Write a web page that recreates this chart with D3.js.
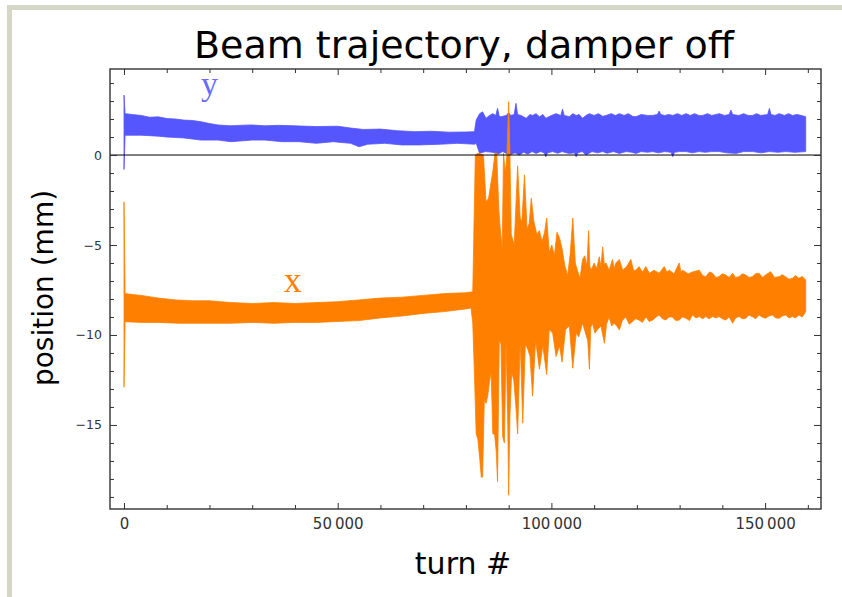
<!DOCTYPE html>
<html>
<head>
<meta charset="utf-8">
<script src="https://cdn.jsdelivr.net/npm/d3@7"></script>
<style>
body { margin: 0; background: #fff; }
svg text { font-family: "DejaVu Sans", Verdana, sans-serif; }
</style>
</head>
<body>
<script>
// envelope of the noisy traces: [turn, position in mm]
// vertical plane (blue)
var yUpper = [
    [0, 3.33], [250, 2.3], [2000, 2.25], [4000, 2.2], [6000, 2.1], [8000, 2.12], [10000, 2.03], [12000, 2.0], [14000, 1.94], [16000, 1.92],
    [18000, 1.85], [20000, 1.75], [22000, 1.67], [25000, 1.62], [28000, 1.66], [30000, 1.67], [33000, 1.62], [36000, 1.65], [40000, 1.62], [45000, 1.58],
    [50000, 1.6], [53000, 1.5], [56000, 1.42], [60000, 1.44], [64000, 1.35], [68000, 1.3], [72000, 1.32], [76000, 1.27], [80000, 1.28], [82000, 1.3],
    [82400, 1.94], [83200, 2.3], [83900, 2.4], [84700, 2.04], [85500, 2.2], [86300, 2.3], [87000, 2.2], [87400, 2.6], [87800, 2.15], [88200, 2.13],
    [89400, 2.2], [90000, 2.35], [90500, 2.2], [91300, 2.25], [91700, 2.87], [92100, 2.25], [92900, 2.2], [94100, 2.04], [95000, 2.25], [95600, 2.2],
    [96400, 2.3], [97200, 2.13], [98000, 2.25], [98700, 2.04], [100000, 2.2], [101100, 2.3], [102200, 2.2], [102600, 2.55], [103000, 2.2], [104200, 2.13],
    [105000, 2.3], [105800, 2.2], [106500, 2.25], [107300, 2.04], [108100, 2.2], [108900, 2.3], [110000, 2.2], [111000, 2.3], [112000, 2.15], [112800, 2.2],
    [114000, 2.3], [115000, 2.2], [115900, 2.3], [117000, 2.2], [118000, 2.3], [119000, 2.15], [119800, 2.13], [121000, 2.25], [122500, 2.2], [123700, 2.2],
    [124800, 2.25], [125200, 2.44], [125600, 2.25], [126500, 2.2], [127500, 2.25], [128400, 2.2], [129500, 2.3], [130500, 2.2], [131500, 2.3], [132500, 2.2],
    [133500, 2.3], [134500, 2.2], [135400, 2.2], [136500, 2.3], [137500, 2.2], [138500, 2.25], [139300, 2.3], [140500, 2.2], [141600, 2.25], [142000, 2.5],
    [142400, 2.25], [143900, 2.2], [145000, 2.3], [146000, 2.2], [147100, 2.2], [148000, 2.3], [149000, 2.2], [150600, 2.25], [151000, 2.59], [151400, 2.25],
    [152300, 2.2], [153300, 2.3], [154500, 2.2], [155500, 2.3], [156400, 2.2], [157500, 2.25], [158500, 2.2], [159500, 2.13]
];
var yLower = [
    [0, -0.8], [250, 1.1], [4000, 1.1], [8000, 1.05], [10000, 1.0], [14000, 0.95], [18000, 0.83], [22000, 0.83], [25000, 0.74], [30000, 0.83],
    [33000, 0.83], [37000, 0.74], [41000, 0.74], [45000, 0.65], [49000, 0.74], [53000, 0.65], [55000, 0.46], [57000, 0.6], [61000, 0.65], [65000, 0.56],
    [69000, 0.56], [74000, 0.6], [78000, 0.65], [82000, 0.6], [82400, 0.65], [83200, 0.1], [84500, 0.19], [86300, 0.15], [87500, 0.05], [88600, 0.19],
    [90200, 0.0], [91500, 0.12], [92500, 0.0], [93500, 0.15], [94500, 0.05], [95500, 0.19], [96400, 0.09], [97500, 0.19], [98300, 0.12], [98700, -0.1],
    [99100, 0.12], [100300, 0.19], [101500, 0.1], [102500, 0.19], [103500, 0.12], [104200, 0.09], [105400, 0.12], [105800, -0.1], [106200, 0.12], [107200, 0.19],
    [108100, 0.0], [109500, 0.19], [110800, 0.12], [112000, 0.19], [113000, 0.1], [114500, 0.19], [115900, 0.09], [117500, 0.19], [118800, 0.15], [119800, 0.09],
    [121000, 0.19], [122500, 0.15], [123700, 0.19], [125000, 0.12], [126500, 0.19], [128000, 0.15], [128400, -0.09], [128800, 0.15], [130000, 0.19], [131500, 0.19],
    [133000, 0.12], [134500, 0.19], [136000, 0.15], [137500, 0.19], [139300, 0.19], [141000, 0.12], [143200, 0.09], [145000, 0.19], [147100, 0.19], [149000, 0.12],
    [151000, 0.19], [153000, 0.15], [154800, 0.19], [157000, 0.15], [159500, 0.19]
];

// horizontal plane (orange)
var xUpper = [
    [0, -2.6], [250, -7.7], [2000, -7.75], [4000, -7.8], [8000, -7.95], [12000, -8.05], [16000, -8.1], [20000, -8.1], [25000, -8.2], [30000, -8.25],
    [35000, -8.2], [40000, -8.25], [45000, -8.2], [50000, -8.15], [55000, -8.05], [60000, -7.95], [65000, -7.9], [70000, -7.8], [75000, -7.7], [80000, -7.65],
    [81600, -7.6], [82200, 0.0], [82800, 0.1], [83600, 0.05], [84100, 0.0], [84700, -2.6], [85300, -2.4], [85900, -1.5], [86300, -0.9], [86800, 0.1],
    [87200, 0.1], [87700, -3.0], [88000, -4.0], [88500, -5.2], [88800, 0.1], [89200, -1.0], [89600, 0.0], [90000, 2.96], [90300, 0.0], [90600, -4.4],
    [91300, -5.0], [92100, -0.6], [92700, -3.5], [93100, -3.7], [93700, -1.1], [94300, -4.1], [94800, -3.8], [95300, -2.4], [95900, -3.7], [96600, -4.4],
    [97200, -4.2], [97800, -4.8], [98400, -4.3], [98900, -3.5], [99500, -5.4], [100100, -5.0], [100700, -5.6], [101300, -4.3], [101900, -4.6], [102500, -5.2],
    [103100, -6.1], [103800, -6.7], [104400, -5.5], [105000, -3.5], [105600, -6.0], [106200, -6.5], [106700, -6.85], [107300, -5.8], [107800, -5.6], [108300, -6.2],
    [108700, -4.2], [109000, -6.2], [109300, -6.4], [110000, -6.0], [110600, -6.3], [111200, -5.65], [111600, -6.2], [112000, -5.1], [112400, -6.1], [112800, -6.0],
    [113500, -6.4], [114300, -5.8], [114700, -6.3], [115100, -6.0], [115900, -5.8], [116700, -6.4], [117600, -6.2], [118600, -5.8], [119200, -6.4], [119800, -6.4],
    [120500, -6.2], [121300, -6.5], [122100, -6.2], [122900, -6.57], [124000, -6.4], [125200, -6.57], [126400, -6.2], [127000, -6.5], [127600, -6.4], [128700, -6.6],
    [129900, -6.0], [130300, -6.5], [130700, -6.4], [132000, -6.6], [133000, -6.5], [134600, -6.4], [135400, -6.7], [136100, -6.76], [137000, -6.5], [137700, -6.57],
    [138500, -6.8], [139200, -6.76], [140000, -6.6], [140800, -6.67], [141600, -6.8], [142400, -6.57], [143100, -6.8], [143900, -6.76], [144700, -6.6], [145500, -6.67],
    [146200, -6.8], [147000, -6.76], [147800, -6.6], [148600, -6.57], [149400, -6.8], [150100, -6.67], [151300, -6.48], [152200, -6.8], [153300, -6.76], [154000, -6.65],
    [154800, -6.76], [155600, -6.9], [156400, -6.85], [157100, -6.7], [157900, -6.85], [158700, -6.75], [159500, -6.94]
];
var xLower = [
    [0, -12.9], [250, -9.26], [4000, -9.3], [8000, -9.3], [13000, -9.35], [18000, -9.35], [25000, -9.35], [30000, -9.3], [35000, -9.35], [40000, -9.3],
    [45000, -9.3], [50000, -9.25], [55000, -9.2], [60000, -9.05], [65000, -8.95], [70000, -8.8], [75000, -8.7], [80000, -8.55], [81200, -8.5], [81600, -9.35],
    [82000, -12.2], [82400, -15.5], [82800, -15.8], [83200, -16.8], [83600, -17.9], [83900, -17.9], [84300, -13.6], [84700, -13.8], [85100, -13.4], [85500, -12.6],
    [85900, -12.1], [86300, -15.5], [86700, -15.5], [87100, -16.5], [87400, -18.15], [87800, -10.3], [88200, -10.5], [88600, -15.65], [89000, -16.0], [89400, -10.3],
    [89800, -15.0], [90000, -18.9], [90300, -14.5], [90700, -12.1], [91200, -12.5], [91700, -14.0], [92100, -15.5], [92700, -10.3], [93300, -14.9], [93900, -10.5],
    [94500, -10.8], [95000, -11.2], [95600, -13.4], [96300, -10.3], [96800, -11.2], [97200, -11.9], [98000, -10.6], [98900, -12.2], [99500, -9.7], [100300, -9.9],
    [101100, -11.2], [101900, -10.6], [102500, -11.5], [103300, -9.7], [104200, -9.5], [105000, -11.85], [105800, -9.9], [106400, -10.1], [107300, -9.35], [108500, -10.3],
    [108900, -11.9], [109200, -9.6], [109600, -9.35], [110200, -9.9], [110800, -9.7], [111600, -9.5], [112400, -10.46], [112900, -9.4], [113500, -9.0], [114100, -9.5],
    [114700, -9.35], [115300, -9.5], [115900, -9.72], [116600, -9.2], [117400, -9.0], [118200, -9.4], [119000, -9.25], [119700, -9.1], [120500, -9.17], [121300, -9.3],
    [122100, -9.0], [122900, -9.25], [123700, -9.17], [124500, -9.0], [125200, -8.89], [126000, -9.1], [126800, -9.17], [127500, -9.0], [128300, -9.0], [129100, -9.2],
    [129900, -9.17], [130700, -9.0], [131500, -9.07], [132300, -9.2], [133000, -8.89], [133800, -9.05], [134600, -8.98], [135400, -9.1], [136100, -8.98], [136900, -9.1],
    [137700, -8.98], [138500, -9.05], [139200, -8.98], [140000, -9.1], [140800, -9.17], [141600, -9.0], [142400, -9.35], [143100, -9.05], [143900, -8.98], [144700, -9.1],
    [145500, -9.07], [146200, -8.9], [147000, -8.98], [147800, -9.1], [148600, -8.89], [149300, -9.0], [150100, -9.07], [150900, -8.95], [151700, -8.89], [152500, -9.05],
    [153300, -9.07], [154000, -8.95], [154800, -8.89], [155600, -9.05], [156400, -8.98], [157100, -9.05], [157900, -8.89], [158700, -9.0], [159500, -8.7]
];

var xTicks = [0, 50000, 100000, 150000];
var xTickLabels = ["0", "50\u2009000", "100\u2009000", "150\u2009000"];
var yTicks = [0, -5, -10, -15];
var yTickLabels = ["0", "\u22125", "\u221210", "\u221215"];

var blue = "#5656ff", orange = "#ff8000";

var svg = d3.select("body").append("svg")
    .attr("width", 842)
    .attr("height", 597);

// slide border (top and left strips)
svg.append("rect").attr("x", 7).attr("y", 5).attr("width", 835).attr("height", 5).attr("fill", "#d6d6c6");
svg.append("rect").attr("x", 7).attr("y", 5).attr("width", 5).attr("height", 592).attr("fill", "#d6d6c6");

// plot frame in pixels
var frame = {left: 110, right: 821, top: 69, bottom: 509};

var x = d3.scaleLinear().domain([-3276, 163080]).range([frame.left, frame.right]);
var y = d3.scaleLinear().domain([4.78, -19.67]).range([frame.top, frame.bottom]);

svg.append("clipPath").attr("id", "clip")
    .append("rect").attr("x", frame.left).attr("y", frame.top)
    .attr("width", frame.right - frame.left).attr("height", frame.bottom - frame.top);

// closed outline: upper edge left to right, then lower edge back
var line = d3.line()
    .x(function(d) { return x(d[0]); })
    .y(function(d) { return y(d[1]); });

function band(upper, lower, color) {
    var pts = upper.concat(lower.slice().reverse());
    g.append("path")
        .attr("d", line(pts) + "Z")
        .attr("fill", color)
        .attr("stroke", color)
        .attr("stroke-width", 0.8)
        .attr("stroke-linejoin", "round");
}

var g = svg.append("g").attr("clip-path", "url(#clip)");
band(yUpper, yLower, blue);
band(xUpper, xLower, orange);

// zero line
svg.append("line")
    .attr("x1", frame.left).attr("x2", frame.right)
    .attr("y1", y(0)).attr("y2", y(0))
    .attr("stroke", "#000")
    .attr("stroke-width", 1);

// frame ticks
var xMinor = d3.range(10000, 170000, 10000).filter(function(d) { return d % 50000 != 0; });
var yMinor = d3.range(-19, 5, 1).filter(function(d) { return d % 5 != 0; });

function frameAxis(axis, tr) {
    var a = svg.append("g").attr("transform", tr).call(axis);
    a.select(".domain").remove();
    a.selectAll("line").attr("stroke", "#333").attr("stroke-width", 1);
    return a;
}

var bx = frameAxis(d3.axisBottom(x).tickValues(xTicks).tickSize(-6).tickPadding(9)
    .tickFormat(function(d, i) { return xTickLabels[i]; }), "translate(0," + frame.bottom + ")");
bx.selectAll("text").attr("font-size", 15).attr("fill", "#333")
    .attr("font-family", "DejaVu Sans, Verdana, sans-serif");
frameAxis(d3.axisBottom(x).tickValues(xMinor).tickSize(-4).tickFormat(""), "translate(0," + frame.bottom + ")");
frameAxis(d3.axisTop(x).tickValues(xTicks).tickSize(-6).tickFormat(""), "translate(0," + frame.top + ")");
frameAxis(d3.axisTop(x).tickValues(xMinor).tickSize(-4).tickFormat(""), "translate(0," + frame.top + ")");

var ly = frameAxis(d3.axisLeft(y).tickValues(yTicks).tickSize(-7).tickPadding(8)
    .tickFormat(function(d, i) { return yTickLabels[i]; }), "translate(" + frame.left + ",0)");
ly.selectAll("text").attr("font-size", 12.5).attr("fill", "#333")
    .attr("font-family", "DejaVu Sans, Verdana, sans-serif");
frameAxis(d3.axisLeft(y).tickValues(yMinor).tickSize(-4).tickFormat(""), "translate(" + frame.left + ",0)");
frameAxis(d3.axisRight(y).tickValues(yTicks).tickSize(-7).tickFormat(""), "translate(" + frame.right + ",0)");
frameAxis(d3.axisRight(y).tickValues(yMinor).tickSize(-4).tickFormat(""), "translate(" + frame.right + ",0)");

// frame
svg.append("rect")
    .attr("x", frame.left).attr("y", frame.top)
    .attr("width", frame.right - frame.left).attr("height", frame.bottom - frame.top)
    .attr("fill", "none")
    .attr("stroke", "#333")
    .attr("stroke-width", 1.4);

// series labels
svg.append("text")
    .attr("x", x(20000)).attr("y", 95)
    .attr("text-anchor", "middle")
    .style("font-family", "Liberation Serif, Times New Roman, serif")
    .attr("font-size", 34)
    .attr("fill", "#6a6aff")
    .text("y");

svg.append("text")
    .attr("x", x(39500)).attr("y", 292)
    .attr("text-anchor", "middle")
    .style("font-family", "Liberation Serif, Times New Roman, serif")
    .attr("font-size", 36)
    .attr("fill", orange)
    .text("x");

// titles
svg.append("text")
    .attr("x", 464).attr("y", 58)
    .attr("text-anchor", "middle")
    .attr("font-size", 38)
    .attr("fill", "#000")
    .text("Beam trajectory, damper off");

svg.append("text")
    .attr("x", 463).attr("y", 574)
    .attr("text-anchor", "middle")
    .attr("font-size", 30)
    .attr("fill", "#000")
    .text("turn #");

svg.append("text")
    .attr("transform", "translate(53,288) rotate(-90)")
    .attr("text-anchor", "middle")
    .attr("font-size", 28)
    .attr("fill", "#000")
    .text("position (mm)");
</script>
</body>
</html>
